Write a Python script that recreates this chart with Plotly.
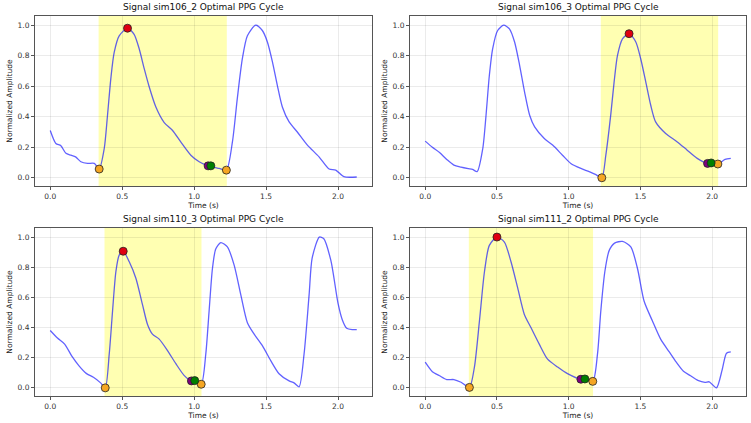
import plotly.graph_objects as go

titles = ["Signal sim106_2 Optimal PPG Cycle", "Signal sim106_3 Optimal PPG Cycle",
          "Signal sim110_3 Optimal PPG Cycle", "Signal sim111_2 Optimal PPG Cycle"]

# sim106_2
t_a = [0.0, 0.039, 0.074, 0.109, 0.144, 0.176, 0.213, 0.259, 0.306, 0.34, 0.375, 0.398, 0.421,
       0.444, 0.479, 0.537, 0.583, 0.618, 0.653, 0.688, 0.734, 0.792, 0.85, 0.907, 0.977, 1.035,
       1.097, 1.174, 1.224, 1.266, 1.3, 1.335, 1.37, 1.428, 1.474, 1.509, 1.544, 1.578, 1.613,
       1.66, 1.717, 1.787, 1.868, 1.938, 1.984, 2.04, 2.13]
sig_a = [0.31, 0.225, 0.21, 0.16, 0.148, 0.137, 0.105, 0.094, 0.094, 0.057, 0.19, 0.41, 0.65,
         0.82, 0.93, 0.98, 0.94, 0.845, 0.715, 0.595, 0.464, 0.362, 0.31, 0.235, 0.148, 0.105,
         0.078, 0.061, 0.05, 0.235, 0.52, 0.78, 0.93, 1.0, 0.965, 0.89, 0.76, 0.606, 0.464,
         0.366, 0.3, 0.214, 0.137, 0.057, 0.05, 0.007, 0.005]

# sim106_3
t_b = [0.0, 0.05, 0.1, 0.15, 0.2, 0.25, 0.3, 0.33, 0.362, 0.401, 0.424, 0.447, 0.47, 0.505,
       0.547, 0.587, 0.623, 0.658, 0.693, 0.728, 0.763, 0.83, 0.888, 0.957, 1.015, 1.085, 1.143,
       1.19, 1.231, 1.259, 1.293, 1.317, 1.34, 1.375, 1.421, 1.468, 1.502, 1.537, 1.572, 1.606,
       1.676, 1.757, 1.826, 1.896, 1.968, 1.993, 2.04, 2.09, 2.13]
sig_b = [0.24, 0.2, 0.165, 0.12, 0.083, 0.07, 0.06, 0.055, 0.04, 0.19, 0.41, 0.67, 0.845, 0.965,
         1.0, 0.976, 0.89, 0.737, 0.56, 0.41, 0.333, 0.257, 0.214, 0.148, 0.094, 0.061, 0.04,
         0.02, 0.0, 0.148, 0.41, 0.63, 0.8, 0.91, 0.944, 0.89, 0.78, 0.63, 0.475, 0.366,
         0.29, 0.235, 0.181, 0.127, 0.094, 0.097, 0.09, 0.12, 0.127]

# sim110_3
t_c = [0.0, 0.05, 0.1, 0.15, 0.2, 0.25, 0.3, 0.35, 0.382, 0.41, 0.433, 0.456, 0.479, 0.507,
       0.549, 0.595, 0.641, 0.676, 0.71, 0.757, 0.815, 0.873, 0.93, 0.981, 1.004, 1.049, 1.081,
       1.104, 1.127, 1.15, 1.185, 1.231, 1.278, 1.324, 1.37, 1.417, 1.474, 1.532, 1.59, 1.66,
       1.694, 1.729, 1.764, 1.799, 1.82, 1.87, 1.9, 1.95, 2.0, 2.03, 2.06, 2.1, 2.13]
sig_c = [0.38, 0.33, 0.29, 0.21, 0.146, 0.096, 0.07, 0.033, 0.0, 0.225, 0.51, 0.77, 0.88, 0.906,
         0.836, 0.727, 0.552, 0.42, 0.356, 0.323, 0.247, 0.16, 0.083, 0.046, 0.048, 0.024, 0.225,
         0.51, 0.79, 0.92, 0.963, 0.935, 0.814, 0.618, 0.432, 0.356, 0.28, 0.181, 0.094, 0.046,
         0.033, 0.007, 0.225, 0.618, 0.86, 1.0, 0.99, 0.845, 0.56, 0.45, 0.395, 0.386, 0.386]

# sim111_2
t_d = [0.0, 0.05, 0.1, 0.15, 0.2, 0.25, 0.308, 0.343, 0.378, 0.413, 0.447, 0.5, 0.552, 0.598,
       0.645, 0.691, 0.737, 0.795, 0.853, 0.923, 0.992, 1.085, 1.113, 1.168, 1.201, 1.224, 1.252,
       1.282, 1.32, 1.375, 1.433, 1.48, 1.526, 1.584, 1.641, 1.7, 1.75, 1.8, 1.85, 1.9, 1.95,
       1.98, 2.03, 2.07, 2.1, 2.13]
sig_d = [0.17, 0.107, 0.08, 0.055, 0.055, 0.037, 0.003, 0.138, 0.443, 0.77, 0.945, 1.0, 0.967,
         0.836, 0.661, 0.487, 0.4, 0.29, 0.19, 0.138, 0.094, 0.057, 0.059, 0.043, 0.225, 0.51,
         0.77, 0.91, 0.96, 0.971, 0.935, 0.79, 0.574, 0.443, 0.323, 0.24, 0.17, 0.11, 0.08,
         0.05, 0.037, 0.04, 0.0, 0.12, 0.23, 0.238]

times = [t_a, t_b, t_c, t_d]
signals = [sig_a, sig_b, sig_c, sig_d]

# optimal cycle window (start, end)
spans = [(0.336, 1.227), (1.224, 2.042), (0.377, 1.051), (0.304, 1.17)]

# fiducial points: onset, systolic peak, notch, diastolic, end
onset = [(0.34, 0.057), (1.231, 0.0), (0.382, 0.0), (0.308, 0.003)]
peak = [(0.537, 0.98), (1.421, 0.944), (0.507, 0.906), (0.5, 1.0)]
notch = [(1.097, 0.078), (1.968, 0.094), (0.981, 0.046), (1.085, 0.057)]
dia = [(1.116, 0.078), (1.993, 0.097), (1.004, 0.048), (1.113, 0.059)]
end = [(1.224, 0.05), (2.04, 0.09), (1.049, 0.024), (1.168, 0.043)]

W, H = 751, 423
boxes = [(35, 372, 16, 186), (410, 746, 16, 186), (35, 372, 228, 396), (410, 746, 228, 396)]

fig = go.Figure()
font = "DejaVu Sans"

for i in range(4):
    x0, x1, y0, y1 = boxes[i]
    xa = "xaxis" if i == 0 else "xaxis%d" % (i + 1)
    ya = "yaxis" if i == 0 else "yaxis%d" % (i + 1)
    xr = "x" if i == 0 else "x%d" % (i + 1)
    yr = "y" if i == 0 else "y%d" % (i + 1)

    fig.layout[xa] = dict(domain=[x0 / W, x1 / W], range=[-0.106, 2.236], anchor=yr,
                          automargin=False,
                          tickvals=[0, 0.5, 1, 1.5, 2], tickformat=".1f",
                          showline=True, mirror=True, linecolor="#555", linewidth=1,
                          showgrid=True, gridcolor="rgba(0,0,0,0.08)", zeroline=False,
                          ticks="outside", ticklen=3, tickcolor="#555",
                          tickfont=dict(size=7.5, color="#333", family=font),
                          title=dict(text="Time (s)", font=dict(size=7.5, color="#222", family=font),
                                     standoff=2))
    fig.layout[ya] = dict(domain=[1 - y1 / H, 1 - y0 / H], range=[-0.054, 1.06], anchor=xr,
                          automargin=False,
                          tickvals=[0, 0.2, 0.4, 0.6, 0.8, 1.0], tickformat=".1f",
                          showline=True, mirror=True, linecolor="#555", linewidth=1,
                          showgrid=True, gridcolor="rgba(0,0,0,0.08)", zeroline=False,
                          ticks="outside", ticklen=3, tickcolor="#555",
                          tickfont=dict(size=7.5, color="#333", family=font),
                          title=dict(text="Normalized Amplitude",
                                     font=dict(size=7.5, color="#222", family=font), standoff=3))

    fig.add_shape(type="rect", x0=spans[i][0], x1=spans[i][1], y0=0, y1=1,
                  xref=xr, yref=yr + " domain", fillcolor="rgba(255,255,0,0.3)",
                  line_width=0, layer="below")

    fig.add_trace(go.Scatter(x=times[i], y=signals[i], mode="lines", xaxis=xr, yaxis=yr,
                             line=dict(color="rgba(0,0,255,0.62)", width=1.3, shape="spline",
                                       smoothing=0.7),
                             showlegend=False, hoverinfo="skip"))
    for pts, col in [(onset, "#f5a623"), (end, "#f5a623"), (notch, "#800080"),
                     (dia, "#008000"), (peak, "#e00010")]:
        fig.add_trace(go.Scatter(x=[pts[i][0]], y=[pts[i][1]], mode="markers", xaxis=xr, yaxis=yr,
                                 marker=dict(color=col, size=8, line=dict(color="#222", width=0.8)),
                                 showlegend=False))

    fig.add_annotation(text=titles[i], x=(x0 + x1) / 2 / W, y=1 - (y0 - 2) / H, xref="paper",
                       yref="paper", xanchor="center", yanchor="bottom", showarrow=False,
                       font=dict(size=9, color="#111", family=font))

fig.update_layout(width=W, height=H, margin=dict(l=0, r=0, t=0, b=0),
                  plot_bgcolor="white", paper_bgcolor="white")
# the page's default body margin would shift the figure
fig.write_html("out.html", config={"displayModeBar": False},
               post_script="document.body.style.margin='0';")
